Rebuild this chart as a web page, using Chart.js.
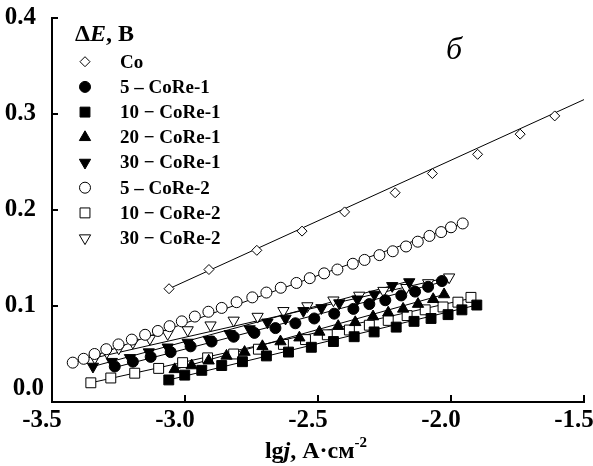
<!DOCTYPE html>
<html>
<head>
<meta charset="utf-8">
<script src="https://cdn.jsdelivr.net/npm/chart.js@4/dist/chart.umd.min.js"></script>
<style>
    html, body { margin: 0; padding: 0; background: #fff; }
    #wrap { position: relative; width: 593px; height: 466px; }
    #wrap canvas { position: absolute; left: 0; top: 0; }
    .bar { position: absolute; background: #000; }
</style>
</head>
<body>
<div id="wrap"><canvas id="tafelChart" width="593" height="466"></canvas></div>
<script>
    // values: x = lg j (A/cm2), y = dE (V)
    var coX = [-3.06, -2.91, -2.73, -2.56, -2.40, -2.21, -2.07, -1.90, -1.74, -1.61];
    var coY = [0.118, 0.138, 0.158, 0.178, 0.198, 0.218, 0.238, 0.258, 0.279, 0.298];

    var co5r1X = [-3.264, -3.196, -3.129, -3.054, -2.979, -2.900, -2.817, -2.739, -2.660, -2.585, -2.514, -2.439, -2.367, -2.307, -2.247, -2.187, -2.135, -2.086, -2.034];
    var co5r1Y = [0.037, 0.042, 0.047, 0.052, 0.058, 0.063, 0.068, 0.072, 0.077, 0.082, 0.087, 0.092, 0.097, 0.102, 0.106, 0.111, 0.115, 0.120, 0.126];

    var co10r1X = [-3.061, -3.001, -2.937, -2.862, -2.784, -2.694, -2.611, -2.525, -2.442, -2.364, -2.289, -2.206, -2.139, -2.075, -2.011, -1.959, -1.903];
    var co10r1Y = [0.023, 0.028, 0.033, 0.038, 0.042, 0.048, 0.052, 0.057, 0.063, 0.068, 0.073, 0.078, 0.084, 0.087, 0.091, 0.096, 0.101];

    var co20r1X = [-3.039, -2.975, -2.911, -2.844, -2.776, -2.709, -2.641, -2.570, -2.495, -2.424, -2.360, -2.293, -2.236, -2.180, -2.124, -2.067, -2.026];
    var co20r1Y = [0.034, 0.038, 0.043, 0.048, 0.052, 0.058, 0.063, 0.067, 0.073, 0.079, 0.083, 0.089, 0.093, 0.097, 0.102, 0.107, 0.112];

    var co30r1X = [-3.346, -3.275, -3.207, -3.136, -3.065, -2.990, -2.911, -2.832, -2.757, -2.690, -2.622, -2.555, -2.487, -2.420, -2.352, -2.288, -2.221, -2.157];
    var co30r1Y = [0.037, 0.042, 0.046, 0.052, 0.057, 0.062, 0.065, 0.071, 0.076, 0.083, 0.087, 0.095, 0.098, 0.103, 0.107, 0.112, 0.121, 0.125];

    var co5r2X = [-3.422, -3.381, -3.340, -3.296, -3.250, -3.200, -3.150, -3.102, -3.058, -3.012, -2.963, -2.912, -2.862, -2.806, -2.747, -2.694,
                  -2.640, -2.581, -2.531, -2.477, -2.427, -2.369, -2.325, -2.269, -2.219, -2.169, -2.125, -2.081, -2.037, -2.000, -1.956];
    var co5r2Y = [0.041, 0.045, 0.050, 0.055, 0.060, 0.065, 0.070, 0.074, 0.079, 0.084, 0.089, 0.094, 0.098, 0.104, 0.109, 0.114,
                  0.119, 0.124, 0.129, 0.134, 0.138, 0.144, 0.148, 0.153, 0.157, 0.162, 0.167, 0.173, 0.177, 0.182, 0.186];

    var co10r2X = [-3.354, -3.279, -3.189, -3.099, -3.009, -2.915, -2.817, -2.724, -2.630, -2.547, -2.465, -2.382, -2.307, -2.236, -2.165, -2.097, -2.030, -1.974, -1.925];
    var co10r2Y = [0.020, 0.025, 0.030, 0.035, 0.041, 0.046, 0.050, 0.055, 0.060, 0.065, 0.070, 0.075, 0.080, 0.085, 0.090, 0.096, 0.099, 0.104, 0.109];

    var co30r2X = [-3.339, -3.294, -3.249, -3.196, -3.132, -3.065, -2.990, -2.904, -2.817, -2.727, -2.630, -2.540, -2.442, -2.345, -2.254, -2.168, -2.086, -2.007];
    var co30r2Y = [0.046, 0.052, 0.056, 0.062, 0.066, 0.071, 0.075, 0.080, 0.085, 0.089, 0.095, 0.100, 0.106, 0.111, 0.116, 0.119, 0.124, 0.130];

    // straight fit lines drawn through each set (end points)
    var coFitX = [-3.06, -1.50],     coFitY = [0.118, 0.315];
    var co5r1FitX = [-3.264, -2.034], co5r1FitY = [0.036, 0.125];
    var co10r1FitX = [-3.061, -1.903], co10r1FitY = [0.023, 0.101];
    var co20r1FitX = [-3.039, -2.026], co20r1FitY = [0.034, 0.112];
    var co30r1FitX = [-3.346, -2.157], co30r1FitY = [0.037, 0.126];
    var co5r2FitX = [-3.422, -1.956], co5r2FitY = [0.040, 0.186];
    var co10r2FitX = [-3.354, -1.925], co10r2FitY = [0.020, 0.108];
    var co30r2FitX = [-3.339, -2.007], co30r2FitY = [0.046, 0.130];

    var xTickValues = [-3.5, -3.0, -2.5, -2.0, -1.5];
    var yTickValues = [0.0, 0.1, 0.2, 0.3, 0.4];

    var serif = '"Liberation Serif", "DejaVu Serif", serif';

    function pts(xs, ys) {
        return xs.map(function (x, i) { return { x: x, y: ys[i] }; });
    }

    var series = [
        { label: 'Co',           x: coX,     y: coY,     fx: coFitX,     fy: coFitY,     style: 'rectRot',  rot: 0,   r: 5,   fill: '#fff' },
        { label: '5 \u2013 CoRe-1',  x: co5r1X,  y: co5r1Y,  fx: co5r1FitX,  fy: co5r1FitY,  style: 'circle',   rot: 0,   r: 5.5, fill: '#000' },
        { label: '10 \u2212 CoRe-1', x: co10r1X, y: co10r1Y, fx: co10r1FitX, fy: co10r1FitY, style: 'rect',     rot: 0,   r: 7,   fill: '#000' },
        { label: '20 \u2212 CoRe-1', x: co20r1X, y: co20r1Y, fx: co20r1FitX, fy: co20r1FitY, style: 'triangle', rot: 0,   r: 6.5, fill: '#000' },
        { label: '30 \u2212 CoRe-1', x: co30r1X, y: co30r1Y, fx: co30r1FitX, fy: co30r1FitY, style: 'triangle', rot: 180, r: 6.5, fill: '#000' },
        { label: '5 \u2013 CoRe-2',  x: co5r2X,  y: co5r2Y,  fx: co5r2FitX,  fy: co5r2FitY,  style: 'circle',   rot: 0,   r: 5.5, fill: '#fff' },
        { label: '10 \u2212 CoRe-2', x: co10r2X, y: co10r2Y, fx: co10r2FitX, fy: co10r2FitY, style: 'rect',     rot: 0,   r: 7,   fill: '#fff' },
        { label: '30 \u2212 CoRe-2', x: co30r2X, y: co30r2Y, fx: co30r2FitX, fy: co30r2FitY, style: 'triangle', rot: 180, r: 6.5, fill: '#fff' }
    ];

    var datasets = [];
    series.forEach(function (s) {
        datasets.push({
            label: s.label + ' fit',
            data: pts(s.fx, s.fy),
            showLine: true,
            fill: false,
            borderColor: '#000',
            backgroundColor: '#000',
            borderWidth: 1,
            pointRadius: 0,
            order: 2
        });
    });
    series.forEach(function (s) {
        datasets.push({
            label: s.label,
            data: pts(s.x, s.y),
            showLine: false,
            pointStyle: s.style,
            pointRotation: s.rot,
            pointRadius: s.r,
            pointBackgroundColor: s.fill,
            pointBorderColor: '#000',
            pointBorderWidth: 1,
            order: 1
        });
    });

    // draws mixed-style text pieces one after another
    function drawRich(ctx, parts, x, y, align) {
        var total = 0;
        parts.forEach(function (p) { ctx.font = p.font; total += ctx.measureText(p.t).width; });
        var cx = align === 'center' ? x - total / 2 : x;
        parts.forEach(function (p) {
            ctx.font = p.font;
            ctx.fillText(p.t, cx, y + (p.dy || 0));
            cx += ctx.measureText(p.t).width;
        });
    }

    // axis frame + inward ticks as a list of rectangles taken from the scales
    function frameBars(chart) {
        var xs = chart.scales.x, ys = chart.scales.y;
        var L = Math.round(xs.left), R = Math.round(xs.right), T = Math.round(ys.top), B = Math.round(ys.bottom);
        var bars = [[L - 1, T - 1, 2, B - T + 2], [L - 1, B - 1, R - L + 2, 2]];
        xTickValues.forEach(function (v) {
            if (v === xs.min) return;
            bars.push([Math.round(xs.getPixelForValue(v)) - 1, B - 7, 2, 7]);
        });
        yTickValues.forEach(function (v) {
            if (v === ys.min) return;
            bars.push([L, Math.round(ys.getPixelForValue(v)) - 1, 6, 2]);
        });
        return bars;
    }

    var decorPlugin = {
        id: 'decor',
        afterDraw: function (chart) {
            var ctx = chart.ctx, xs = chart.scales.x, ys = chart.scales.y;
            ctx.save();
            ctx.fillStyle = '#000';
            frameBars(chart).forEach(function (b) { ctx.fillRect(b[0], b[1], b[2], b[3]); });

            ctx.textBaseline = 'alphabetic';
            // lifted 0.0 label
            ctx.font = 'bold 25px ' + serif;
            ctx.textAlign = 'right';
            ctx.fillText('0.0', Math.round(xs.left) - 8, Math.round(ys.bottom) - 7);

            ctx.textAlign = 'left';
            drawRich(ctx, [
                { t: '\u0394', font: 'bold 24px ' + serif },
                { t: 'E', font: 'italic bold 24px ' + serif },
                { t: ', \u0412', font: 'bold 24px ' + serif }
            ], 75, 41, 'left');

            drawRich(ctx, [
                { t: 'lg', font: 'bold 24px ' + serif },
                { t: 'j', font: 'italic bold 24px ' + serif },
                { t: ', \u0410\u00b7\u0441\u043c', font: 'bold 24px ' + serif },
                { t: '-2', font: 'bold 15px ' + serif, dy: -11 }
            ], 316, 458, 'center');

            ctx.font = 'italic 32px ' + serif;
            ctx.fillText('\u0431', 446, 59);

            // legend
            series.forEach(function (s, i) {
                var ly = 61.7 + i * 25.2;
                ctx.fillStyle = s.fill;
                ctx.strokeStyle = '#000';
                ctx.lineWidth = 1;
                Chart.helpers.drawPoint(ctx, { pointStyle: s.style, rotation: s.rot, radius: s.r, borderWidth: 1 }, 85, ly);
                ctx.fillStyle = '#000';
                ctx.font = 'bold 19px ' + serif;
                ctx.textBaseline = 'middle';
                ctx.fillText(s.label, 120, ly + 1);
            });
            ctx.restore();
        }
    };

    var tafelCtx = document.getElementById('tafelChart').getContext('2d');
    var tafelChart = new Chart(tafelCtx, {
        type: 'scatter',
        data: { datasets: datasets },
        options: {
            responsive: false,
            animation: false,
            layout: { padding: { top: 18, right: 9 } },
            plugins: {
                legend: { display: false },
                tooltip: { enabled: false }
            },
            scales: {
                x: {
                    min: -3.5,
                    max: -1.5,
                    afterBuildTicks: function (scale) { scale.ticks = xTickValues.map(function (v) { return { value: v }; }); },
                    afterFit: function (scale) { scale.height = 64; scale.paddingLeft = 0; scale.paddingRight = 0; },
                    grid: { display: false },
                    border: { display: true, color: '#000', width: 2 },
                    ticks: {
                        color: '#000',
                        padding: -4,
                        labelOffset: -10,
                        maxRotation: 0,
                        font: { family: serif, size: 25, weight: 'bold' },
                        callback: function (v) { return v.toFixed(1); }
                    }
                },
                y: {
                    min: 0,
                    max: 0.4,
                    afterBuildTicks: function (scale) { scale.ticks = yTickValues.map(function (v) { return { value: v }; }); },
                    afterFit: function (scale) { scale.width = 52; scale.paddingTop = 0; scale.paddingBottom = 0; },
                    grid: { display: false },
                    border: { display: true, color: '#000', width: 2 },
                    ticks: {
                        color: '#000',
                        padding: 8,
                        font: { family: serif, size: 25, weight: 'bold' },
                        callback: function (v) { return v === 0 ? '' : v.toFixed(1); }
                    }
                }
            }
        },
        plugins: [decorPlugin]
    });

    // same frame also laid over the canvas as plain blocks
    var wrap = document.getElementById('wrap');
    frameBars(tafelChart).forEach(function (b) {
        var d = document.createElement('div');
        d.className = 'bar';
        d.style.left = b[0] + 'px';
        d.style.top = b[1] + 'px';
        d.style.width = b[2] + 'px';
        d.style.height = b[3] + 'px';
        wrap.appendChild(d);
    });
</script>
</body>
</html>
